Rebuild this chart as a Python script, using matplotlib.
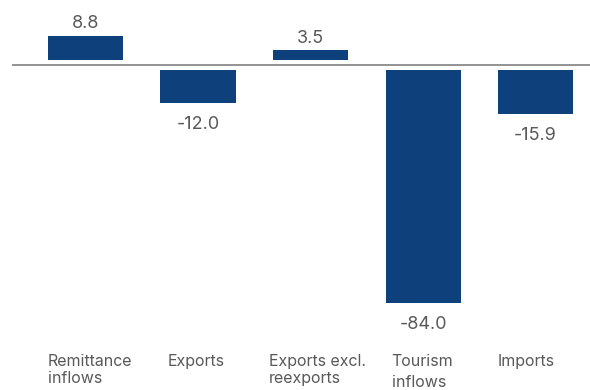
import matplotlib
matplotlib.use("Agg")
import matplotlib.pyplot as plt
from matplotlib.transforms import blended_transform_factory, offset_copy

categories = ["Remittance\ninflows", "Exports", "Exports excl.\nreexports",
              "Tourism\ninflows", "Imports"]
values = [8.8, -12.0, 3.5, -84.0, -15.9]

BAR_COLOR = "#0E417B"
TEXT_COLOR = "#595959"
LINE_COLOR = "#808080"
GAP = 1.8  # visual gap between bars and the zero line, in data units

plt.rcParams["font.family"] = ["Inter", "DejaVu Sans"]

fig = plt.figure(figsize=(5.9, 3.9), dpi=100)
ax = fig.add_axes([12 / 590, 0, 578 / 590, 1])
ax.set_xlim(-0.653, 4.484)
ax.set_ylim(-117.16, 23.43)
ax.axis("off")

x = list(range(len(values)))
bottoms = [GAP if v >= 0 else -GAP for v in values]
ax.bar(x, values, bottom=bottoms, width=0.667, color=BAR_COLOR, linewidth=0)
ax.axhline(0, color=LINE_COLOR, linewidth=1.2)

for xi, v, b in zip(x, values, bottoms):
    end = v + b
    if v >= 0:
        tr = offset_copy(ax.transData, fig=fig, y=2.5, units="points")
        ax.text(xi, end, f"{v:.1f}", transform=tr, ha="center", va="bottom",
                fontsize=13, color=TEXT_COLOR)
    else:
        tr = offset_copy(ax.transData, fig=fig, y=-9.5, units="points")
        ax.text(xi, end, f"{v:.1f}", transform=tr, ha="center", va="top",
                fontsize=13, color=TEXT_COLOR)

# category labels, left aligned under the left edge of each bar
label_shift = [-0.333, -0.27, -0.373, -0.28, -0.333]
line_gap = [1.2, 1.2, 1.2, 1.5, 1.2]
blend = blended_transform_factory(ax.transData, ax.transAxes)
for xi, name, s, ls in zip(x, categories, label_shift, line_gap):
    ax.text(xi + s, 1 - 354 / 390, name, transform=blend, ha="left", va="top",
            fontsize=11.5, color=TEXT_COLOR, linespacing=ls)

fig.savefig("out.png", dpi=100)
